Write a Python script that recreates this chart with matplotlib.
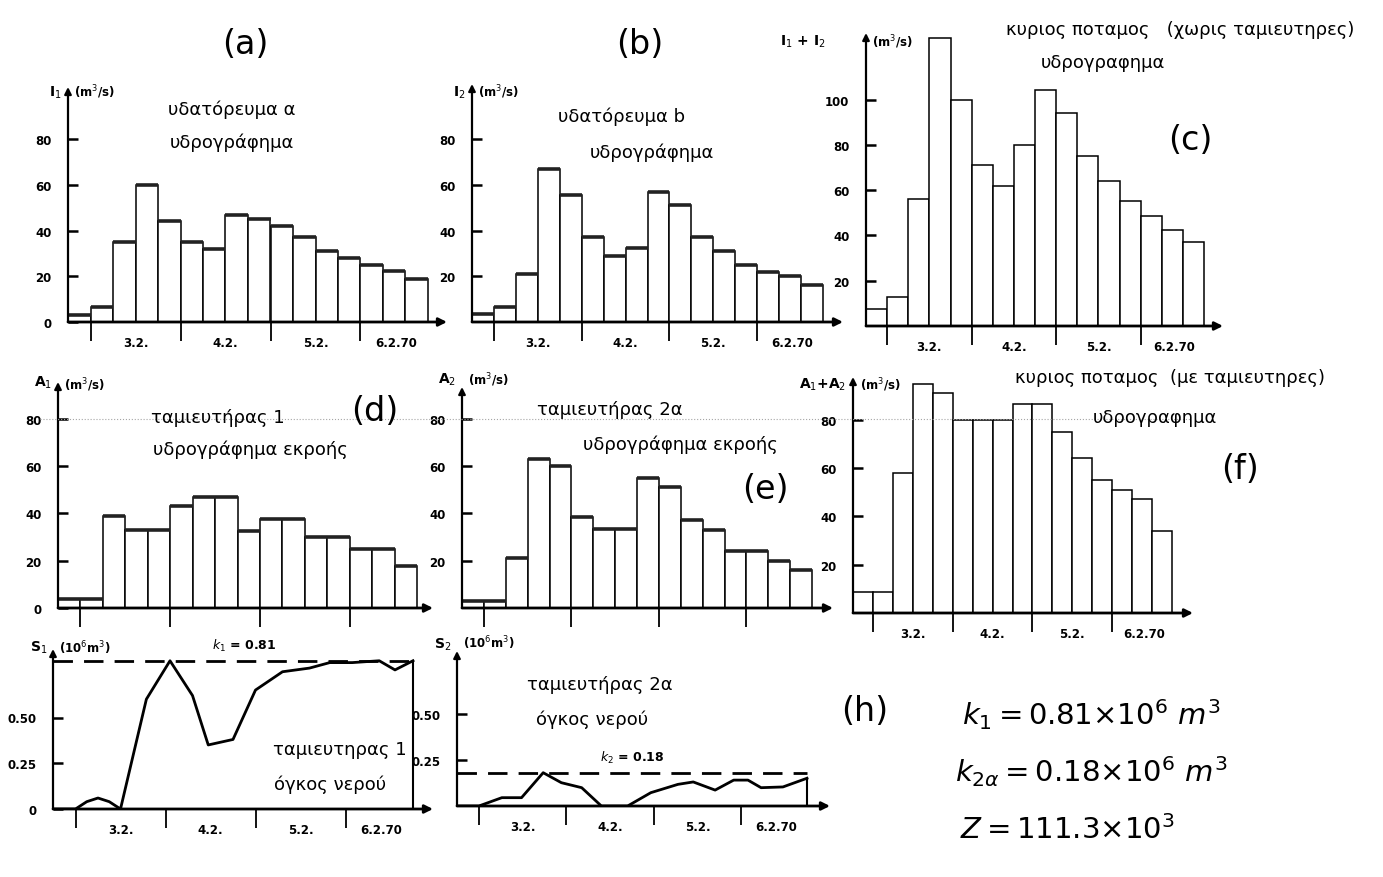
import numpy as np
import matplotlib as mpl
mpl.use('Agg')
import matplotlib.pyplot as plt
from matplotlib.lines import Line2D

mpl.rcParams['font.family'] = ['DejaVu Sans']
mpl.rcParams['mathtext.fontset'] = 'dejavusans'

W, H = 1383, 878

# 6-hourly intervals, 16 per hydrograph
steps = np.arange(16)
inflow_a = [3.2, 6.5, 35, 60, 44, 35, 32, 47, 45, 42, 37, 31, 28, 25, 22.5, 19]
inflow_b = [3.6, 6.5, 21, 67, 55.5, 37, 29, 32.5, 57, 51, 37, 31, 25, 22, 20, 16]
inflow_c = [7.6, 13, 56, 127, 100, 71, 62, 80, 104, 94, 75, 64, 55, 48.5, 42.6, 37]
outflow_d = [3.7, 3.7, 39, 33, 33, 43, 47, 47, 32.5, 37.7, 37.7, 30, 30, 25, 25, 17.7]
outflow_e = [3, 3, 21, 63, 60, 38.5, 33.5, 33.5, 55, 51, 37, 33, 24, 24, 20, 16]
outflow_f = [8.6, 8.6, 58, 95, 91, 80, 80, 80, 86.5, 86.5, 75, 64, 55, 51, 47, 34]

# storage (10^6 m3)
s1_t = [0, 1.0, 1.5, 2.0, 2.5, 3.0, 4.15, 5.2, 6.2, 6.9, 8.0, 9.0, 10.2, 11.4, 12.3, 13.3, 14.5, 15.2, 16.0]
s1 = [0, 0, 0.04, 0.06, 0.04, 0, 0.60, 0.81, 0.62, 0.35, 0.38, 0.65, 0.75, 0.77, 0.80, 0.80, 0.81, 0.76, 0.81]
s2_t = [0, 1.0, 2.05, 2.95, 3.94, 4.77, 5.7, 6.6, 7.8, 8.86, 10.1, 10.8, 11.8, 12.65, 13.3, 13.9, 14.9, 16.0]
s2 = [0, 0, 0.045, 0.045, 0.18, 0.126, 0.099, 0, 0, 0.072, 0.117, 0.13, 0.086, 0.14, 0.14, 0.099, 0.103, 0.15]
k1 = 0.81
k2 = 0.18

day_ticks = [1, 5, 9, 13]
day_pos = [3, 7, 11, 14.6]
day_labels = ['3.2.', '4.2.', '5.2.', '6.2.70']

fig = plt.figure(figsize=(W/100, H/100), dpi=100)

def fx(x):
    return x/W

def fy(y):
    return 1 - y/H

def panel(x0, y0, x16, xend, ytop, yscale, yticks, ylabels, dates=True):
    # x0,y0 = origin in pixels, x16 = where step 16 ends, yscale = px per y unit
    ax = fig.add_axes([fx(x0), fy(y0), (xend-x0)/W, (y0-ytop)/H])
    ax.set_xlim(0, 16*(xend-x0)/(x16-x0))
    ax.set_ylim(0, (y0-ytop)/yscale)
    ax.patch.set_alpha(0)
    for s in ax.spines.values():
        s.set_visible(False)
    xm, ym = ax.get_xlim()[1], ax.get_ylim()[1]
    ax.annotate('', xy=(xm, 0), xytext=(0, 0), annotation_clip=False,
                arrowprops=dict(arrowstyle='-|>', lw=2, color='k', mutation_scale=12, shrinkA=0, shrinkB=0))
    ax.annotate('', xy=(0, ym), xytext=(0, 0), annotation_clip=False,
                arrowprops=dict(arrowstyle='-|>', lw=1.6, color='k', mutation_scale=10, shrinkA=0, shrinkB=0))
    ax.set_yticks(yticks)
    ax.set_yticklabels(ylabels)
    ax.tick_params(axis='y', direction='in', length=7, width=1.8, labelsize=8.5, pad=12)
    for t in ax.get_yticklabels():
        t.set_fontweight('bold')
    ax.set_xticks(day_ticks)
    ax.set_xticklabels([])
    ax.tick_params(axis='x', which='major', direction='out', length=14, width=1.3)
    if dates:
        ax.set_xticks(day_pos, minor=True)
        ax.set_xticklabels(day_labels, minor=True)
        ax.tick_params(axis='x', which='minor', length=0, pad=10, labelsize=8.5)
        for t in ax.get_xticklabels(minor=True):
            t.set_fontweight('bold')
    return ax

def bars(ax, vals, thick=True):
    ax.bar(steps, vals, width=1, align='edge', facecolor='white', edgecolor='k', linewidth=1.1)
    if thick:
        ax.hlines(vals, steps, steps + 1, colors='#222222', linewidth=2.6)

ax_a = panel(68, 323, 428, 447, 88, 2.285, [0, 20, 40, 60, 80], ['0', '20', '40', '60', '80'])
bars(ax_a, inflow_a)
ax_b = panel(472, 323, 823, 843, 85, 2.285, [20, 40, 60, 80], ['20', '40', '60', '80'])
bars(ax_b, inflow_b)
ax_c = panel(866, 327, 1204, 1223, 34, 2.265, [20, 40, 60, 80, 100], ['20', '40', '60', '80', '100'])
bars(ax_c, inflow_c, thick=False)
ax_d = panel(58, 609, 417, 433, 383, 2.365, [0, 20, 40, 60, 80], ['0', '20', '40', '60', '80'], dates=False)
bars(ax_d, outflow_d)
ax_e = panel(462, 609, 812, 833, 388, 2.365, [20, 40, 60, 80], ['20', '40', '60', '80'], dates=False)
bars(ax_e, outflow_e)
ax_f = panel(853, 614, 1172, 1193, 378, 2.415, [20, 40, 60, 80], ['20', '40', '60', '80'])
bars(ax_f, outflow_f, thick=False)

ax_g = panel(53, 810, 413, 433, 650, 183, [0, 0.25, 0.50], ['0', '0.25', '0.50'])
ax_g.plot(s1_t, s1, color='k', lw=2)
ax_g.plot([0, 16], [k1, k1], color='k', lw=2, dashes=(7, 4))
ax_g.plot([16, 16], [0, k1], color='k', lw=1.5)
ax_g.text(8.5, k1 + 0.04, r'$k_1$ = 0.81', ha='center', va='bottom', fontsize=9, fontweight='bold')

ax_h = panel(457, 807, 807, 830, 652, 185, [0.25, 0.50], ['0.25', '0.50'])
ax_h.plot(s2_t, s2, color='k', lw=2)
ax_h.plot([0, 16], [k2, k2], color='k', lw=2, dashes=(7, 4))
ax_h.plot([16, 16], [0, s2[-1]], color='k', lw=1.5)
ax_h.text(8.0, k2 + 0.04, r'$k_2$ = 0.18', ha='center', va='bottom', fontsize=9, fontweight='bold')

# faint dotted guide from the scan
fig.add_artist(Line2D([fx(40), fx(1190)], [fy(420), fy(420)], color='0.65', lw=0.8, ls=':'))

# axis names (right-aligned just left of each y axis)
unit_q = r'(m$^3$/s)'
unit_s = r'(10$^6$m$^3$)'
for x, y, s in [(62, 93, r'I$_1$'), (466, 93, r'I$_2$'), (826, 42, r'I$_1$ + I$_2$'),
                (52, 383, r'A$_1$'), (456, 380, r'A$_2$'), (846, 385, r'A$_1$+A$_2$'),
                (47, 648, r'S$_1$'), (451, 645, r'S$_2$')]:
    fig.text(fx(x), fy(y), s, fontsize=10, fontweight='bold', va='center', ha='right')
for x, y, s in [(74, 92, unit_q), (478, 92, unit_q), (872, 42, unit_q),
                (64, 385, unit_q), (468, 380, unit_q), (860, 385, unit_q),
                (59, 648, unit_s), (463, 643, unit_s)]:
    fig.text(fx(x), fy(y), s, fontsize=8.5, fontweight='bold', va='center')

# panel titles
titles = [(232, 110, 'υδατόρευμα α'), (232, 143, 'υδρογράφημα'),
          (622, 117, 'υδατόρευμα b'), (652, 153, 'υδρογράφημα'),
          (1180, 30, 'κυριος ποταμος   (χωρις ταμιευτηρες)'), (1103, 63, 'υδρογραφημα'),
          (218, 418, 'ταμιευτήρας 1'), (250, 450, 'υδρογράφημα εκροής'),
          (610, 410, 'ταμιευτήρας 2α'), (680, 445, 'υδρογράφημα εκροής'),
          (1170, 378, 'κυριος ποταμος  (με ταμιευτηρες)'), (1155, 418, 'υδρογραφημα'),
          (340, 750, 'ταμιευτηρας 1'), (330, 785, 'όγκος νερού'),
          (600, 685, 'ταμιευτήρας 2α'), (592, 720, 'όγκος νερού')]
for x, y, s in titles:
    fig.text(fx(x), fy(y), s, fontsize=13, ha='center', va='center')

# panel letters
for x, y, s in [(245, 45, '(a)'), (640, 45, '(b)'), (1190, 140, '(c)'), (375, 412, '(d)'),
                (765, 490, '(e)'), (1240, 470, '(f)'), (865, 712, '(h)')]:
    fig.text(fx(x), fy(y), s, fontsize=24, ha='center', va='center')

# constants
fig.text(fx(962), fy(715), r'$k_1 = 0.81{\times}10^6\ m^3$', fontsize=21, va='center')
fig.text(fx(955), fy(772), r'$k_{2\alpha} = 0.18{\times}10^6\ m^3$', fontsize=21, va='center')
fig.text(fx(960), fy(830), r'$Z = 111.3{\times}10^3$', fontsize=21, va='center')

plt.savefig('out.png', dpi=100)
